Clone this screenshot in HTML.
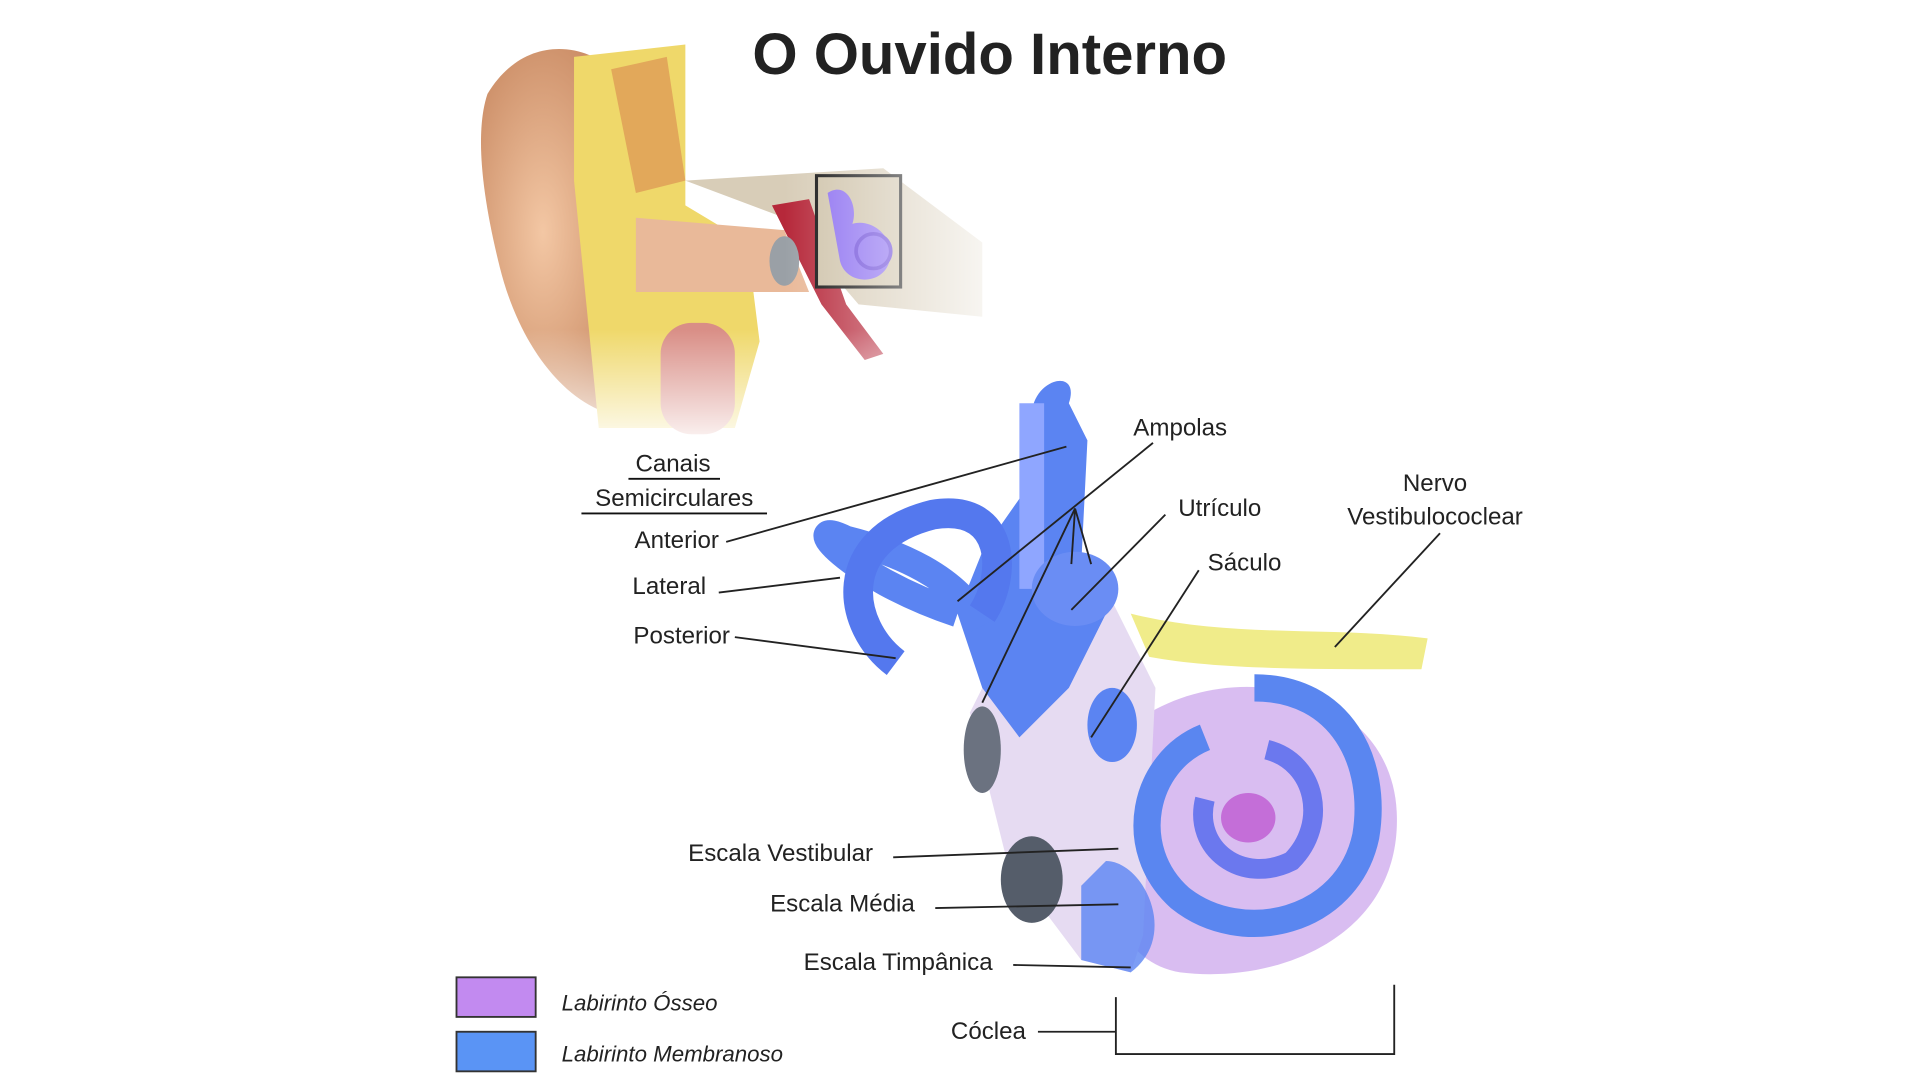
<!DOCTYPE html>
<html><head><meta charset="utf-8"><style>
html,body{margin:0;padding:0;background:#fff;width:1920px;height:1080px;overflow:hidden}
svg{display:block}
text{font-family:"Liberation Sans",sans-serif;fill:#222}
</style></head><body>
<svg width="1920" height="1080" viewBox="0 0 1552 873" preserveAspectRatio="none">
<defs>
<radialGradient id="ear" cx="0.4" cy="0.5" r="0.6"><stop offset="0" stop-color="#f3c7a4"/><stop offset="1" stop-color="#c98a63"/></radialGradient>
<linearGradient id="fade" x1="0" y1="0" x2="1" y2="0"><stop offset="0" stop-color="#fff" stop-opacity="0"/><stop offset="1" stop-color="#fff"/></linearGradient>
<linearGradient id="fadeb" x1="0" y1="0" x2="0" y2="1"><stop offset="0" stop-color="#fff" stop-opacity="0"/><stop offset="1" stop-color="#fff"/></linearGradient>
</defs>
<g transform="translate(-6,-4)">
<path d="M400,80 C430,30 480,40 500,60 L520,340 C480,345 430,300 410,220 C395,160 390,110 400,80Z" fill="url(#ear)"/>
<path d="M470,50 L560,40 L560,170 L610,200 L620,280 L600,350 L490,350 L480,250 L470,150Z" fill="#efd86a"/>
<path d="M500,60 L545,50 L560,150 L520,160Z" fill="#e2a85a"/>
<rect x="540" y="265" width="60" height="90" rx="25" fill="#d98e86"/>
<path d="M520,180 L640,190 L660,240 L520,240Z" fill="#e9b999"/>
<path d="M560,150 L720,140 L800,200 L800,260 L700,250 L640,180Z" fill="#d8cdb8"/>
<path d="M630,170 L660,165 L690,250 L720,290 L705,295 L670,250Z" fill="#b6283a"/>
<ellipse cx="640" cy="215" rx="12" ry="20" fill="#9aa0a6"/>
<rect x="666" y="146" width="68" height="90" fill="#cfc3aa" stroke="#111" stroke-width="2.5"/>
<path d="M675,160 C690,150 700,170 695,185 C710,180 730,195 725,215 C720,235 690,235 685,215 Z" fill="#8a6cf0"/>
<circle cx="712" cy="207" r="14" fill="none" stroke="#6a48d8" stroke-width="3"/>
<rect x="640" y="30" width="200" height="340" fill="url(#fade)"/>
<rect x="380" y="270" width="460" height="100" fill="url(#fadeb)"/>
<path d="M920,590 C1000,530 1130,560 1135,660 C1140,760 1040,800 960,790 C900,780 880,700 920,590Z" fill="#d2b2ef" opacity="0.85"/>
<path d="M830,500 L900,480 L940,560 L930,760 L920,790 L880,780 L820,700 L790,580Z" fill="#e6dbf2"/>
<path d="M1020,560 C1090,560 1120,620 1110,680 C1095,750 1010,770 960,730 C915,690 930,620 980,600" fill="none" stroke="#5a86f0" stroke-width="22"/>
<path d="M1030,610 C1070,620 1080,670 1050,700 C1010,720 970,690 980,650" fill="none" stroke="#6b78ee" stroke-width="16"/>
<ellipse cx="1015" cy="665" rx="22" ry="20" fill="#c46ed8"/>
<path d="M870,330 C880,300 840,310 840,340 L835,400 L800,450 L780,500 L800,560 L830,600 L870,560 L900,500 L880,460 L885,360Z" fill="#5b84f2"/>
<path d="M840,330 L840,480" stroke="#8fa6ff" stroke-width="20" fill="none"/>
<path d="M780,500 C690,470 650,420 690,440 C730,450 780,470 800,510" fill="none" stroke="#5b84f2" stroke-width="22"/>
<path d="M730,540 C690,510 680,440 760,420 C820,410 820,470 800,500" fill="none" stroke="#5478ee" stroke-width="24"/>
<ellipse cx="875" cy="480" rx="35" ry="30" fill="#6a8df4"/>
<ellipse cx="905" cy="590" rx="20" ry="30" fill="#5b84f2"/>
<ellipse cx="840" cy="715" rx="25" ry="35" fill="#555d6a"/>
<ellipse cx="800" cy="610" rx="15" ry="35" fill="#6b7280"/>
<path d="M900,700 C930,700 960,760 920,790 L880,780 L880,720Z" fill="#5b84f2" opacity="0.8"/>
<path d="M920,500 C1000,520 1080,510 1160,520 L1155,545 C1060,545 990,545 935,535Z" fill="#f0ec8a"/>
<text x="806" y="64" text-anchor="middle" font-size="47" font-weight="bold" fill="#111">O Ouvido Interno</text>
<g font-size="19.5">
<text x="960" y="356" text-anchor="middle">Ampolas</text>
<text x="992" y="421" text-anchor="middle">Utrículo</text>
<text x="1012" y="465" text-anchor="middle">Sáculo</text>
<text x="1166" y="401" text-anchor="middle">Nervo</text>
<text x="1166" y="428" text-anchor="middle">Vestibulococlear</text>
<text x="550" y="385" text-anchor="middle">Canais</text>
<text x="551" y="413" text-anchor="middle">Semicirculares</text>
<text x="553" y="447" text-anchor="middle">Anterior</text>
<text x="547" y="484" text-anchor="middle">Lateral</text>
<text x="557" y="524" text-anchor="middle">Posterior</text>
<text x="637" y="700" text-anchor="middle">Escala Vestibular</text>
<text x="687" y="741" text-anchor="middle">Escala Média</text>
<text x="732" y="788" text-anchor="middle">Escala Timpânica</text>
<text x="805" y="844" text-anchor="middle">Cóclea</text>
</g>
<g stroke="#111" stroke-width="1.5">
<line x1="514" y1="391" x2="588" y2="391"/><line x1="476" y1="419" x2="626" y2="419"/>
</g>
<g stroke="#222" stroke-width="1.5" fill="none">
<line x1="593" y1="442" x2="868" y2="365"/>
<line x1="587" y1="483" x2="685" y2="471"/>
<line x1="600" y1="519" x2="730" y2="536"/>
<line x1="938" y1="362" x2="780" y2="490"/>
<line x1="875" y1="415" x2="800" y2="572"/>
<line x1="875" y1="415" x2="872" y2="460"/>
<line x1="875" y1="415" x2="888" y2="460"/>
<line x1="948" y1="420" x2="872" y2="497"/>
<line x1="975" y1="465" x2="888" y2="600"/>
<line x1="1170" y1="435" x2="1085" y2="527"/>
<line x1="728" y1="697" x2="910" y2="690"/>
<line x1="762" y1="738" x2="910" y2="735"/>
<line x1="825" y1="784" x2="920" y2="786"/>
<line x1="845" y1="838" x2="908" y2="838"/>
<polyline points="908,810 908,856 1133,856 1133,800"/>
</g>
<rect x="375" y="794" width="64" height="32" fill="#c28af0" stroke="#333" stroke-width="1.5"/>
<rect x="375" y="838" width="64" height="32" fill="#5a94f5" stroke="#333" stroke-width="1.5"/>
<text x="460" y="821" font-size="18" font-style="italic">Labirinto Ósseo</text>
<text x="460" y="862" font-size="18" font-style="italic">Labirinto Membranoso</text>
</g>
</svg>
</body></html>
